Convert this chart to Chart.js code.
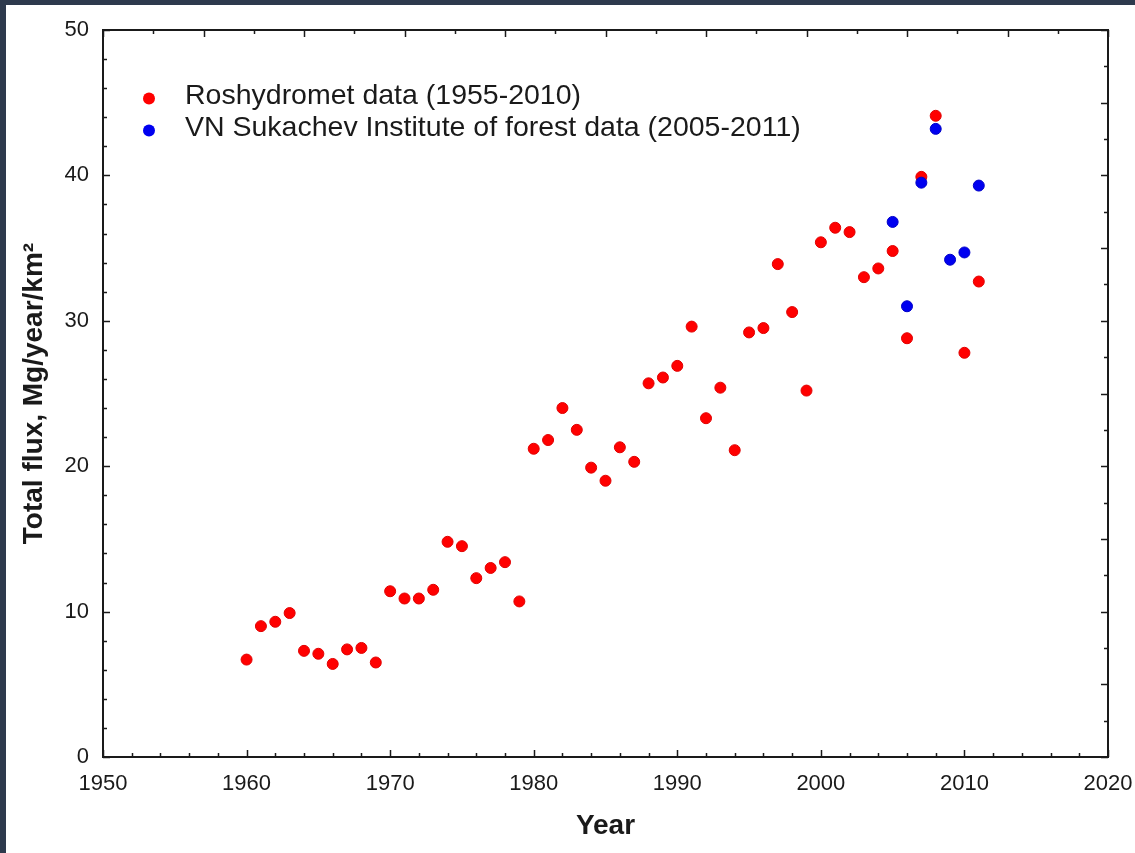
<!DOCTYPE html>
<html>
<head>
<meta charset="utf-8">
<script src="https://cdn.jsdelivr.net/npm/chart.js@4/dist/chart.umd.min.js"></script>
<style>
  html, body { margin: 0; padding: 0; background: #ffffff; }
  #wrap {
    width: 1129px; height: 848px;
    border-top: 5px solid #2e3a4d;
    border-left: 6px solid #2e3a4d;
    background: #ffffff;
  }
  canvas { display: block; }
</style>
</head>
<body>
<div id="wrap"><canvas id="chart" width="1129" height="848"></canvas></div>
<script>
// Roshydromet observations
const roshYears = [1960, 1961, 1962, 1963, 1964, 1965, 1966, 1967, 1968, 1969,
                   1970, 1971, 1972, 1973, 1974, 1975, 1976, 1977, 1978, 1979,
                   1980, 1981, 1982, 1983, 1984, 1985, 1986, 1987, 1988, 1989,
                   1990, 1991, 1992, 1993, 1994, 1995, 1996, 1997, 1998, 1999,
                   2000, 2001, 2002, 2003, 2004, 2005, 2006, 2007, 2008, 2010, 2011];
const roshFlux  = [6.7, 9.0, 9.3, 9.9, 7.3, 7.1, 6.4, 7.4, 7.5, 6.5,
                   11.4, 10.9, 10.9, 11.5, 14.8, 14.5, 12.3, 13.0, 13.4, 10.7,
                   21.2, 21.8, 24.0, 22.5, 19.9, 19.0, 21.3, 20.3, 25.7, 26.1,
                   26.9, 29.6, 23.3, 25.4, 21.1, 29.2, 29.5, 33.9, 30.6, 25.2,
                   35.4, 36.4, 36.1, 33.0, 33.6, 34.8, 28.8, 39.9, 44.1, 27.8, 32.7];

// VN Sukachev Institute of forest observations
const sukYears = [2005, 2006, 2007, 2008, 2009, 2010, 2011];
const sukFlux  = [36.8, 31.0, 39.5, 43.2, 34.2, 34.7, 39.3];

// Labelled ticks
const yearTicks = [1950, 1960, 1970, 1980, 1990, 2000, 2010, 2020];
const fluxTicks = [0, 10, 20, 30, 40, 50];

const seriesNames = ['Roshydromet data (1955-2010)',
                     'VN Sukachev Institute of forest data (2005-2011)'];

const FONT = '"Liberation Sans", Arial, Helvetica, sans-serif';
const INK = '#1a1a1a';

const toPoints = (xs, ys) => xs.map((x, i) => ({ x: x, y: ys[i] }));

// Inward tick marks on all four sides of the frame
const frameTicks = {
  id: 'frameTicks',
  afterDraw(chart) {
    const { ctx, chartArea: a, scales } = chart;
    ctx.save();
    ctx.strokeStyle = INK;
    ctx.lineWidth = 1.5;
    const major = 7, minor = 4;
    const isMajor = (id, tick, i) => {
      if (id === 'x') return yearTicks.includes(tick.value);
      if (id === 'y') return fluxTicks.includes(tick.value);
      return i % 2 === 0;
    };
    for (const [id, s] of Object.entries(scales)) {
      s.ticks.forEach((t, i) => {
        const len = isMajor(id, t, i) ? major : minor;
        const p = Math.round(s.getPixelForValue(t.value)) + 0.5;
        ctx.beginPath();
        if (s.position === 'bottom') { ctx.moveTo(p, a.bottom); ctx.lineTo(p, a.bottom - len); }
        else if (s.position === 'top') { ctx.moveTo(p, a.top); ctx.lineTo(p, a.top + len); }
        else if (s.position === 'left') { ctx.moveTo(a.left, p); ctx.lineTo(a.left + len, p); }
        else { ctx.moveTo(a.right, p); ctx.lineTo(a.right - len, p); }
        ctx.stroke();
      });
    }
    ctx.restore();
  }
};

// Series key drawn inside the plot frame
const insideLegend = {
  id: 'insideLegend',
  afterDatasetsDraw(chart) {
    const { ctx, chartArea: a } = chart;
    ctx.save();
    ctx.font = '28.5px ' + FONT;
    ctx.textBaseline = 'middle';
    ctx.textAlign = 'left';
    chart.data.datasets.forEach((ds, i) => {
      const cy = a.top + 66 + i * 32;
      ctx.beginPath();
      ctx.arc(a.left + 46, cy + 2.5, 6, 0, Math.PI * 2);
      ctx.fillStyle = ds.backgroundColor;
      ctx.fill();
      ctx.fillStyle = INK;
      ctx.fillText(ds.label, a.left + 82, cy);
    });
    ctx.restore();
  }
};

const fixSize = (prop, size) => (s) => {
  s[prop] = size;
  s.paddingLeft = 0; s.paddingRight = 0; s.paddingTop = 0; s.paddingBottom = 0;
};

new Chart(document.getElementById('chart'), {
  type: 'scatter',
  data: {
    datasets: [
      {
        label: seriesNames[0],
        data: toPoints(roshYears, roshFlux),
        backgroundColor: '#ff0000',
        borderColor: '#e00000',
        borderWidth: 1,
        pointRadius: 5.5,
        order: 1
      },
      {
        label: seriesNames[1],
        data: toPoints(sukYears, sukFlux),
        backgroundColor: '#0000f0',
        borderColor: '#0000c8',
        borderWidth: 1,
        pointRadius: 5.5,
        order: 0
      }
    ]
  },
  options: {
    responsive: false,
    animation: false,
    devicePixelRatio: 1,
    layout: { padding: 0, autoPadding: false },
    plugins: {
      legend: { display: false },
      tooltip: { enabled: false }
    },
    scales: {
      x: {
        type: 'linear', position: 'bottom', min: 1950, max: 2020,
        afterFit: fixSize('height', 96),
        grid: { display: false, drawTicks: false },
        border: { display: true, color: INK, width: 2 },
        ticks: {
          stepSize: 2, autoSkip: false, maxRotation: 0, padding: 14,
          color: INK, font: { family: FONT, size: 22 },
          callback: (v) => yearTicks.includes(v) ? String(v) : ''
        },
        title: {
          display: true, text: 'Year', color: INK,
          font: { family: FONT, size: 28, weight: 'bold' },
          padding: { top: 0, bottom: 9.5 }
        }
      },
      y: {
        type: 'linear', position: 'left', min: 0, max: 50,
        afterFit: fixSize('width', 97),
        grid: { display: false, drawTicks: false },
        border: { display: true, color: INK, width: 2 },
        ticks: {
          stepSize: 2, autoSkip: false, padding: 14,
          color: INK, font: { family: FONT, size: 22 },
          callback: (v) => fluxTicks.includes(v) ? String(v) : ''
        },
        title: {
          display: true, text: 'Total flux, Mg/year/km\u00B2', color: INK,
          font: { family: FONT, size: 28, weight: 'bold' },
          padding: { top: 11.4, bottom: 0 }
        }
      },
      xTop: {
        type: 'linear', position: 'top', min: 1950, max: 2020,
        afterFit: fixSize('height', 25),
        grid: { display: false, drawTicks: false },
        border: { display: true, color: INK, width: 2 },
        ticks: { display: false, stepSize: 3.5, autoSkip: false }
      },
      yRight: {
        type: 'linear', position: 'right', min: 0, max: 50,
        afterFit: fixSize('width', 27),
        grid: { display: false, drawTicks: false },
        border: { display: true, color: INK, width: 2 },
        ticks: { display: false, stepSize: 2.5, autoSkip: false }
      }
    }
  },
  plugins: [frameTicks, insideLegend]
});
</script>
</body>
</html>
